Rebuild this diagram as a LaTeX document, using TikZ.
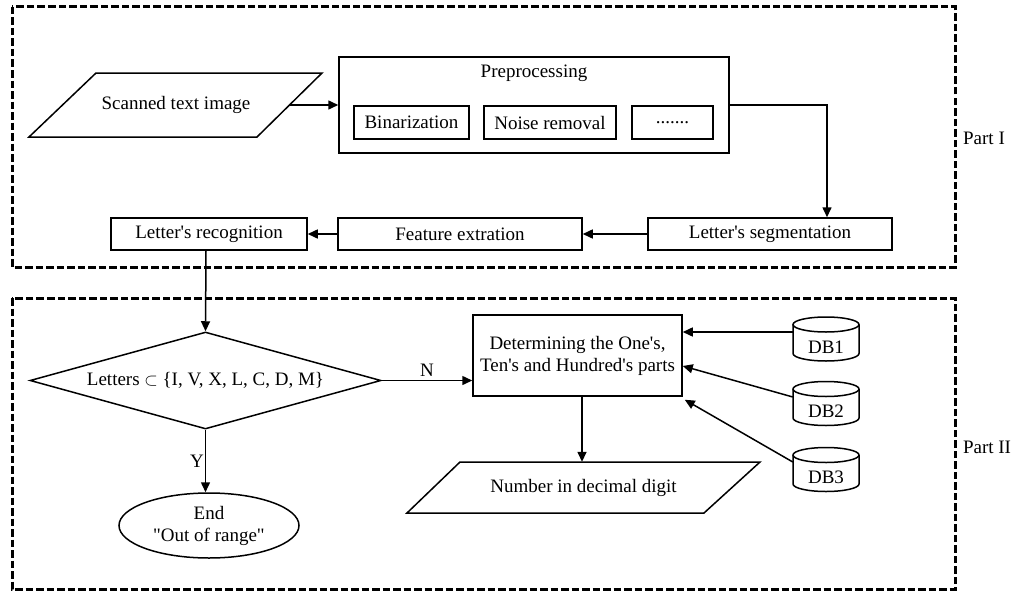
\documentclass[tikz,border=0pt]{standalone}
\usepackage{fontspec}
\setmainfont{Liberation Serif}
\usetikzlibrary{arrows.meta,shapes.geometric}
\newcommand{\qs}{\textquotesingle}
\begin{document}
\begin{tikzpicture}[x=1pt,y=-1pt,
  every node/.style={font=\fontsize{19}{22}\selectfont, inner sep=0pt},
  box/.style={draw, line width=1.5pt, rectangle},
  plain/.style={rectangle},
  arr/.style={line width=1.5pt, -{Triangle[length=10pt,width=9pt]}},
  ln/.style={line width=1.5pt},
  frame/.style={line width=3pt, dash pattern=on 7.5pt off 3pt},
  dbbody/.style={line width=1.5pt}
]
\useasboundingbox (0,0) rectangle (1014,594);
% frames
\draw[frame] (12,7) rectangle (955,267);
\draw[frame] (12,298) rectangle (955,589);
\node (p1) at (984,138) {Part I};
\node (p2) at (987,447) {Part II};

% scanned text image parallelogram
\node[plain, minimum width=227pt, minimum height=64pt] (scan) at (176,105) {Scanned text image};
\draw[ln] (96,73) -- (322,73) -- (257,137) -- (29,137) -- cycle;

% preprocessing
\node[box, minimum width=390pt, minimum height=96pt] (prep) at (534,105) {};
\node (preptitle) at (534,73) {Preprocessing};
\node[box, minimum width=115pt, minimum height=33pt] (bin) at (411.5,122.5) {Binarization};
\node[box, minimum width=132pt, minimum height=33pt] (noise) at (550,122.5) {Noise removal};
\node[box, minimum width=81pt, minimum height=33pt] (dots) at (672.5,122.5) {.......};

% second row
\node[box, minimum width=244pt, minimum height=32pt] (seg) at (770,234) {Letter\qs s segmentation};
\node[box, minimum width=244pt, minimum height=32pt] (feat) at (460,234) {Feature extration};
\node[box, minimum width=196pt, minimum height=32pt] (rec) at (209,234) {Letter\qs s recognition};

\draw[arr] (scan.east) -- (prep.west);
\draw[arr] (prep.east) -| ([xshift=57pt]seg.north);
\draw[arr] (seg.west) -- (feat.east);
\draw[arr] (feat.west) -- (rec.east);

% part II
\node[diamond, draw, line width=1.5pt, aspect=3.6, minimum width=351pt, minimum height=97pt] (dec) at (205.5,380.5) {Letters $\subset$ \{I, V, X, L, C, D, M\}};
\draw[arr] ([xshift=-3pt]rec.south) -- (dec.north);
\node[ellipse, draw, line width=1.5pt, minimum width=180pt, minimum height=65pt, align=center] (endn) at (209,525.5) {End\\\textquotedbl Out of range\textquotedbl};
\draw[arr] (dec.south) -- (dec.south |- endn.north) node[pos=0.5, left=1pt] (ylab) {Y};

\node[box, minimum width=209pt, minimum height=81pt, align=center] (det) at (577.5,355.5) {Determining the One\qs s,\\Ten\qs s and Hundred\qs s parts};
\draw[arr] (dec.east) -- (dec.east -| det.west) node[pos=0.5, above=3pt] (nlab) {N};

\node[plain, minimum width=300pt, minimum height=51pt] (num) at (583.5,487.5) {Number in decimal digit};
\draw[ln] (460,462) -- (760,462) -- (704,513) -- (407,513) -- cycle;
\draw[arr] ([xshift=4.5pt]det.south) -- ([xshift=4.5pt]det.south |- num.north);

% databases
\foreach \n/\cy in {1/339, 2/403.5, 3/469.5}{
  \node[plain, minimum width=66pt, minimum height=30pt] (db\n) at (826,\cy+8) {DB\n};
  \draw[dbbody] (793,\cy-14.5) -- (793,\cy+14.5) arc[start angle=180, end angle=0, x radius=33, y radius=7.5] -- (859,\cy-14.5);
  \draw[dbbody] (826,\cy-14.5) ellipse[x radius=33, y radius=7.5];
}
\draw[arr] ([yshift=15pt]db1.west) -- ([yshift=15pt]db1.west -| det.east);
\draw[arr] ([yshift=14.5pt]db2.west) -- ([yshift=-10.5pt]det.east);
\draw[arr] ([yshift=15.5pt]db3.west) -- ([xshift=2pt,yshift=-3pt]det.south east);
\end{tikzpicture}
\end{document}
